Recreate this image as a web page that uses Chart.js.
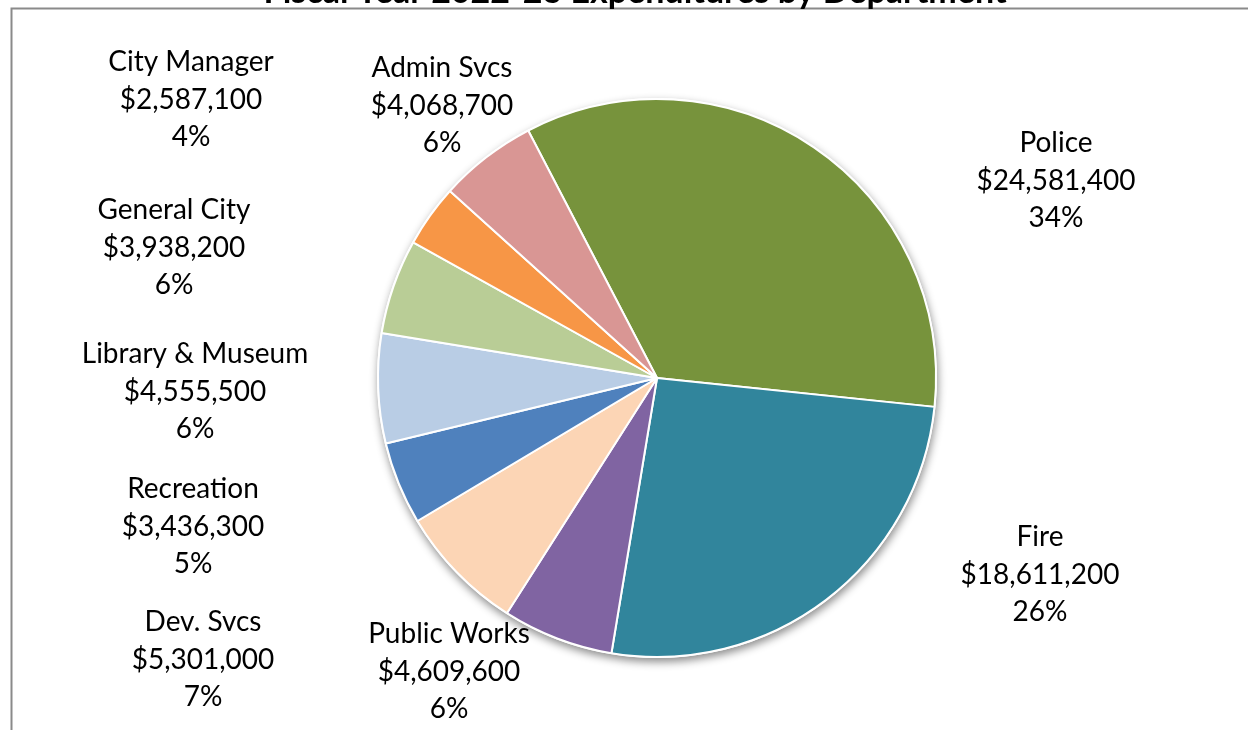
<!DOCTYPE html>
<html>
<head>
<meta charset="utf-8">
<script src="https://cdn.jsdelivr.net/npm/chart.js@4/dist/chart.umd.min.js"></script>
<style>
  html, body { margin: 0; padding: 0; background: #fff; }
  #wrap { width: 1248px; height: 730px; position: relative; }
</style>
</head>
<body>
<div id="wrap"><canvas id="expChart"></canvas></div>
<script>
// clockwise from the Police slice
const departments = ["Police", "Fire", "Public Works", "Dev. Svcs", "Recreation",
    "Library & Museum", "General City", "City Manager", "Admin Svcs"];
const expenditures = [24581400, 18611200, 4609600, 5301000, 3436300,
    4555500, 3938200, 2587100, 4068700];
const percentLabels = ["34%", "26%", "6%", "7%", "5%", "6%", "6%", "4%", "6%"];
const sliceColors = ["#77933C", "#31859C", "#8064A2", "#FCD5B5", "#4F81BD",
    "#B9CDE5", "#B9CD96", "#F79646", "#D99694"];

const chartTitle = "Fiscal Year 2022-23 Expenditures by Department";

// where the data labels sit (centre x, first baseline y)
const labelSpots = [
    [1056, 152], [1040, 546], [449, 643], [203, 631], [193, 498],
    [195, 363], [174, 219], [191, 71], [442, 77]
];
const LINE_GAP = 37.5;
const FONT = "Lato, 'Open Sans', sans-serif";

const frameAndLabels = {
    id: "frameAndLabels",
    beforeDatasetsDraw(chart) {
        const arc = chart.getDatasetMeta(0).data[0];
        if (!arc) return;
        const ctx = chart.ctx;
        ctx.save();
        ctx.shadowColor = "rgba(0,0,0,0.45)";
        ctx.shadowBlur = 9;
        ctx.shadowOffsetX = 1;
        ctx.shadowOffsetY = 4;
        ctx.fillStyle = "#ffffff";
        ctx.beginPath();
        ctx.arc(arc.x, arc.y, arc.outerRadius + 1, 0, Math.PI * 2);
        ctx.fill();
        ctx.restore();
    },
    afterDraw(chart) {
        const ctx = chart.ctx;
        ctx.save();
        // outer frame (only top and left edges are in view)
        ctx.strokeStyle = "#8a8a8a";
        ctx.lineWidth = 2;
        ctx.beginPath();
        ctx.moveTo(1248, 8.5);
        ctx.lineTo(11.5, 8.5);
        ctx.lineTo(11.5, 730);
        ctx.stroke();

        // title, mostly cut off by the top edge
        ctx.fillStyle = "#000";
        ctx.font = "bold 34px " + FONT;
        ctx.textAlign = "center";
        ctx.textBaseline = "alphabetic";
        ctx.fillText(chartTitle, 635, 3);

        ctx.font = "28px " + FONT;
        departments.forEach((name, i) => {
            const [x, y] = labelSpots[i];
            const lines = [name, "$" + expenditures[i].toLocaleString("en-US"), percentLabels[i]];
            lines.forEach((t, j) => ctx.fillText(t, x, y + j * LINE_GAP));
        });
        ctx.restore();
    }
};

document.addEventListener("DOMContentLoaded", () => {
    const ctx = document.getElementById("expChart").getContext("2d");
    new Chart(ctx, {
        type: "pie",
        data: {
            labels: departments,
            datasets: [{
                data: expenditures,
                backgroundColor: sliceColors,
                borderColor: "#ffffff",
                borderWidth: 2,
            }]
        },
        options: {
            responsive: true,
            maintainAspectRatio: false,
            animation: false,
            rotation: -27.5,
            layout: { padding: { top: 98, bottom: 72, left: 377, right: 311 } },
            plugins: {
                legend: { display: false },
                title: { display: false },
                tooltip: { enabled: false },
            },
        },
        plugins: [frameAndLabels],
    });
});
</script>
</body>
</html>
